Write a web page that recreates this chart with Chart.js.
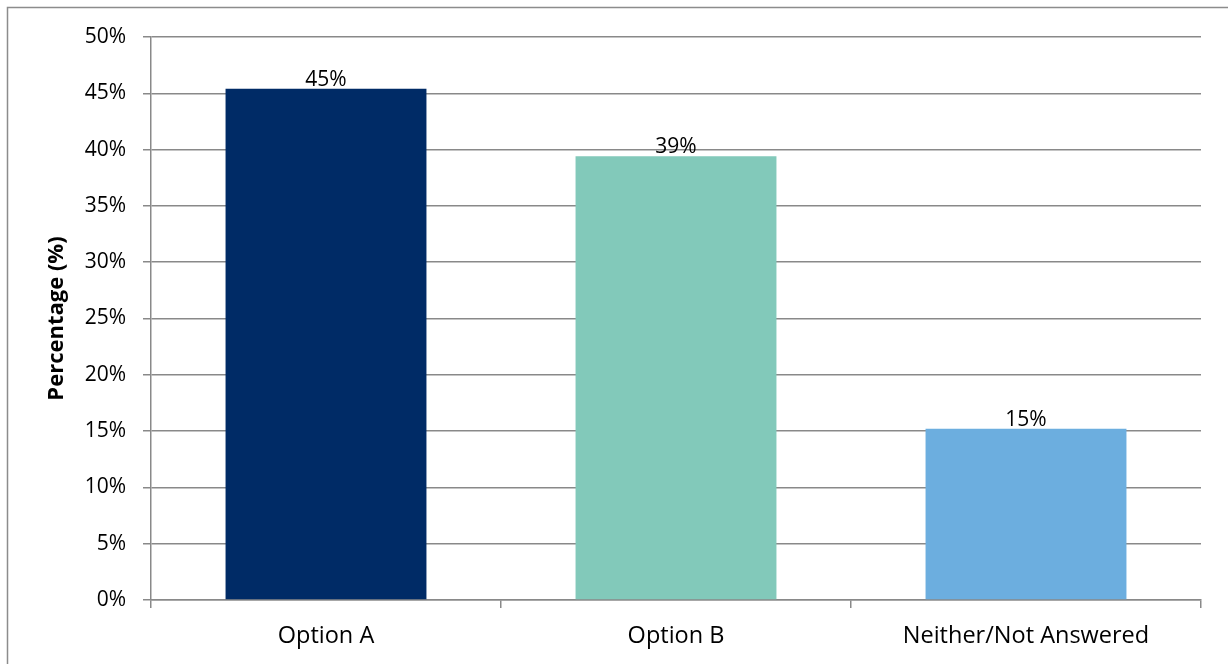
<!DOCTYPE html>
<html>
<head>
<meta charset="utf-8">
<script src="https://cdn.jsdelivr.net/npm/chart.js@4"></script>
<style>
  body { margin: 0; background: #fff; }
  #wrap { width: 1228px; height: 664px; }
</style>
</head>
<body>
<div id="wrap"><canvas id="myChart" width="1228" height="664"></canvas></div>
<script>
const categories = ['Option A', 'Option B', 'Neither/Not Answered']
const percentages = [45.4, 39.4, 15.2]
const barColors = ['#002B66', '#82C9BA', '#6CAEDF']

const axisGray = '#898989'
const fontFamily = '"Open Sans", sans-serif'

// white background and the thin frame round the chart
const frame = {
    id: 'frame',
    beforeDraw(chart) {
        const ctx = chart.ctx
        ctx.save()
        ctx.fillStyle = '#ffffff'
        ctx.fillRect(0, 0, chart.width, chart.height)
        ctx.strokeStyle = '#8c8c8c'
        ctx.lineWidth = 1.5
        ctx.strokeRect(7.5, 7.5, chart.width + 20, chart.height + 20)
        ctx.restore()
    }
}

// value printed on top of each bar
const valueLabels = {
    id: 'valueLabels',
    afterDatasetsDraw(chart) {
        const ctx = chart.ctx
        const meta = chart.getDatasetMeta(0)
        ctx.save()
        ctx.font = '21px ' + fontFamily
        ctx.fillStyle = '#000000'
        ctx.textAlign = 'center'
        ctx.textBaseline = 'alphabetic'
        meta.data.forEach((bar, i) => {
            ctx.fillText(percentages[i].toFixed(0) + '%', bar.x, bar.y - 3)
        })
        ctx.restore()
    }
}

const chart1 = document.getElementById('myChart')

new Chart(chart1, {
    type: 'bar',
    data: {
        labels: categories,
        datasets: [{
            data: percentages,
            backgroundColor: barColors,
            borderWidth: 0,
            barPercentage: 0.574,
            categoryPercentage: 1.0
        }]
    },
    options: {
        responsive: false,
        animation: false,
        events: [],
        layout: {
            padding: { left: 20, top: 37, right: 27, bottom: 0 }
        },
        plugins: {
            legend: { display: false },
            tooltip: { enabled: false }
        },
        scales: {
            x: {
                grid: {
                    offset: true,
                    drawOnChartArea: false,
                    tickLength: 8,
                    color: axisGray,
                    lineWidth: 1.5
                },
                border: { color: axisGray, width: 1.5 },
                ticks: {
                    font: { family: fontFamily, size: 23.5 },
                    color: '#000000',
                    padding: 14
                },
                afterFit(scale) {
                    scale.height = 64
                }
            },
            y: {
                min: 0,
                max: 50,
                ticks: {
                    stepSize: 5,
                    callback: v => v + '%',
                    font: { family: fontFamily, size: 21 },
                    color: '#000000',
                    padding: 17
                },
                grid: {
                    color: axisGray,
                    lineWidth: 1.5,
                    tickLength: 8
                },
                border: { color: axisGray, width: 1.5 },
                title: {
                    display: true,
                    text: 'Percentage (%)',
                    color: '#000000',
                    font: { family: fontFamily, size: 22, weight: 'bold' },
                    padding: { top: 24, bottom: 0 }
                },
                afterFit(scale) {
                    scale.width = 131
                }
            }
        }
    },
    plugins: [frame, valueLabels]
})
</script>
</body>
</html>
